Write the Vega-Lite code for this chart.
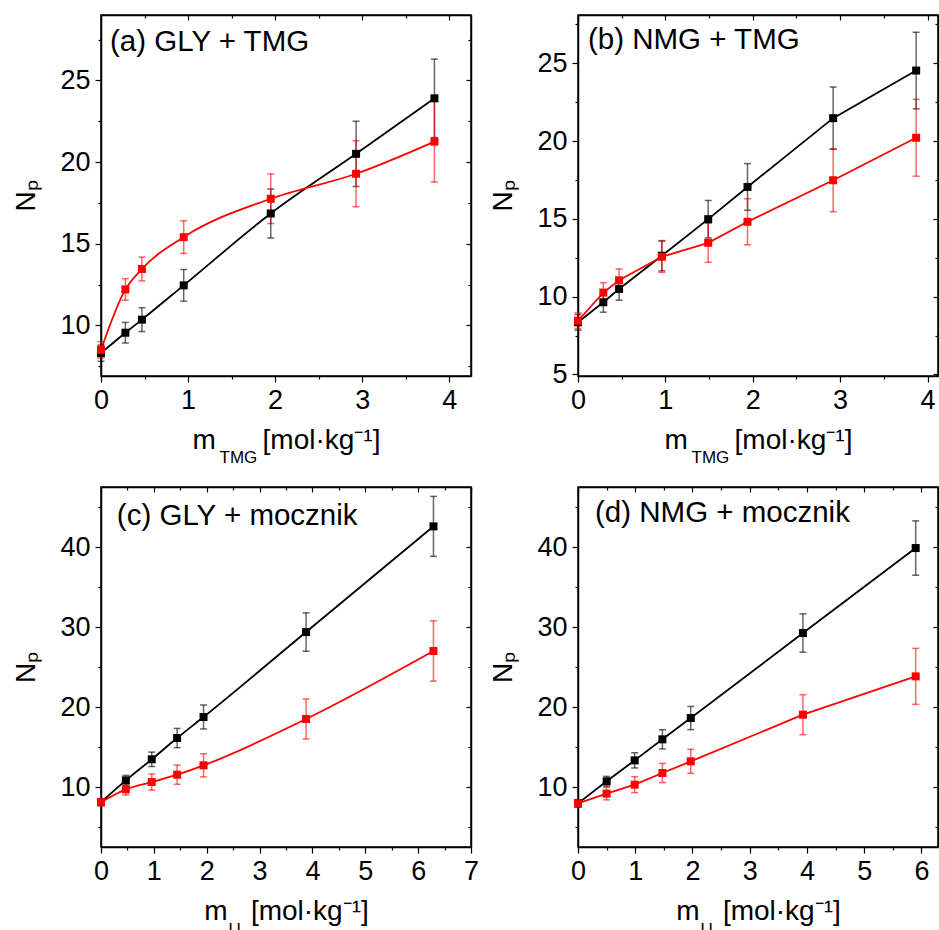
{
  "$schema": "https://vega.github.io/schema/vega-lite/v6.json",
  "padding": {"left": 12, "top": 9, "right": 0, "bottom": 0},
  "autosize": {"type": "pad"},
  "background": "white",
  "columns": 2,
  "bounds": "flush",
  "spacing": {"column": 107, "row": 111},
  "datasets": {
    "a": [
      {"x": 0, "y": 8.3, "err": 0.5, "s": "s1"},
      {"x": 0.28, "y": 9.55, "err": 0.63, "s": "s1"},
      {"x": 0.47, "y": 10.35, "err": 0.73, "s": "s1"},
      {"x": 0.95, "y": 12.45, "err": 0.97, "s": "s1"},
      {"x": 1.95, "y": 16.85, "err": 1.5, "s": "s1"},
      {"x": 2.93, "y": 20.5, "err": 2.0, "s": "s1"},
      {"x": 3.83, "y": 23.9, "err": 2.4, "s": "s1"},
      {"x": 0, "y": 8.5, "err": 0.5, "s": "s2"},
      {"x": 0.28, "y": 12.2, "err": 0.66, "s": "s2"},
      {"x": 0.47, "y": 13.45, "err": 0.73, "s": "s2"},
      {"x": 0.95, "y": 15.4, "err": 1.0, "s": "s2"},
      {"x": 1.95, "y": 17.75, "err": 1.52, "s": "s2"},
      {"x": 2.93, "y": 19.28, "err": 2.02, "s": "s2"},
      {"x": 3.83, "y": 21.25, "err": 2.47, "s": "s2"}
    ],
    "b": [
      {"x": 0, "y": 8.35, "err": 0.5, "s": "s1"},
      {"x": 0.29, "y": 9.64, "err": 0.64, "s": "s1"},
      {"x": 0.47, "y": 10.49, "err": 0.72, "s": "s1"},
      {"x": 0.96, "y": 12.63, "err": 0.97, "s": "s1"},
      {"x": 1.49, "y": 14.98, "err": 1.2, "s": "s1"},
      {"x": 1.94, "y": 17.05, "err": 1.5, "s": "s1"},
      {"x": 2.92, "y": 21.47, "err": 2.0, "s": "s1"},
      {"x": 3.87, "y": 24.53, "err": 2.46, "s": "s1"},
      {"x": 0, "y": 8.45, "err": 0.5, "s": "s2"},
      {"x": 0.29, "y": 10.26, "err": 0.64, "s": "s2"},
      {"x": 0.47, "y": 11.05, "err": 0.73, "s": "s2"},
      {"x": 0.96, "y": 12.56, "err": 1.0, "s": "s2"},
      {"x": 1.49, "y": 13.46, "err": 1.25, "s": "s2"},
      {"x": 1.94, "y": 14.81, "err": 1.48, "s": "s2"},
      {"x": 2.92, "y": 17.48, "err": 2.02, "s": "s2"},
      {"x": 3.87, "y": 20.21, "err": 2.47, "s": "s2"}
    ],
    "c": [
      {"x": 0, "y": 8.1, "err": 0.4, "s": "s1"},
      {"x": 0.47, "y": 10.83, "err": 0.62, "s": "s1"},
      {"x": 0.96, "y": 13.46, "err": 0.9, "s": "s1"},
      {"x": 1.44, "y": 16.12, "err": 1.2, "s": "s1"},
      {"x": 1.94, "y": 18.75, "err": 1.5, "s": "s1"},
      {"x": 3.88, "y": 29.37, "err": 2.4, "s": "s1"},
      {"x": 6.29, "y": 42.58, "err": 3.75, "s": "s1"},
      {"x": 0, "y": 8.1, "err": 0.4, "s": "s2"},
      {"x": 0.47, "y": 9.71, "err": 0.7, "s": "s2"},
      {"x": 0.96, "y": 10.62, "err": 1.0, "s": "s2"},
      {"x": 1.44, "y": 11.54, "err": 1.2, "s": "s2"},
      {"x": 1.94, "y": 12.71, "err": 1.45, "s": "s2"},
      {"x": 3.88, "y": 18.5, "err": 2.5, "s": "s2"},
      {"x": 6.29, "y": 27.0, "err": 3.77, "s": "s2"}
    ],
    "d": [
      {"x": 0, "y": 7.95, "err": 0.4, "s": "s1"},
      {"x": 0.5, "y": 10.71, "err": 0.62, "s": "s1"},
      {"x": 0.99, "y": 13.33, "err": 0.95, "s": "s1"},
      {"x": 1.475, "y": 15.96, "err": 1.2, "s": "s1"},
      {"x": 1.97, "y": 18.62, "err": 1.45, "s": "s1"},
      {"x": 3.93, "y": 29.25, "err": 2.4, "s": "s1"},
      {"x": 5.9, "y": 39.87, "err": 3.4, "s": "s1"},
      {"x": 0, "y": 7.95, "err": 0.4, "s": "s2"},
      {"x": 0.5, "y": 9.17, "err": 0.78, "s": "s2"},
      {"x": 0.99, "y": 10.29, "err": 1.0, "s": "s2"},
      {"x": 1.475, "y": 11.75, "err": 1.2, "s": "s2"},
      {"x": 1.97, "y": 13.21, "err": 1.5, "s": "s2"},
      {"x": 3.93, "y": 19.04, "err": 2.5, "s": "s2"},
      {"x": 5.9, "y": 23.83, "err": 3.5, "s": "s2"}
    ]
  },
  "concat": [
    {
      "width": 370, "height": 361,
      "data": {"name": "a"},
      "layer": [
        {"mark": {"type": "line", "interpolate": "monotone", "strokeWidth": 1.8},
         "encoding": {
           "x": {"field": "x", "type": "quantitative", "scale": {"domain": [0, 4.25], "nice": false, "zero": false},
                 "axis": {"orient": "bottom", "values": [0, 0.5, 1, 1.5, 2, 2.5, 3, 3.5, 4], "labelExpr": "datum.value % 1 === 0 ? format(datum.value, '.0f') : ''", "tickSize": {"condition": {"test": "datum.value % 1 === 0", "value": 6}, "value": 3}, "title": "m\u00a0\u00a0\u00a0\u00a0\u00a0\u00a0[mol·kg⁻¹]"}},
           "y": {"field": "y", "type": "quantitative", "scale": {"domain": [6.9, 29.0], "nice": false, "zero": false},
                 "axis": {"orient": "left", "values": [7.5, 10, 12.5, 15, 17.5, 20, 22.5, 25, 27.5], "labelExpr": "datum.value % 5 === 0 ? format(datum.value, '.0f') : ''", "tickSize": {"condition": {"test": "datum.value % 5 === 0", "value": 6}, "value": 3}, "title": "Nₚ"}},
           "color": {"field": "s", "type": "nominal", "scale": {"domain": ["s1", "s2"], "range": ["#000000", "#ff0000"]}, "legend": null}
         }},
        {"mark": {"type": "errorbar", "thickness": 1.5, "rule": {"opacity": 0.6}, "ticks": {"size": 7, "opacity": 0.6}},
         "encoding": {
           "x": {"field": "x", "type": "quantitative", "scale": {"domain": [0, 4.25], "nice": false, "zero": false}, "axis": null},
           "y": {"field": "y", "type": "quantitative", "scale": {"domain": [6.9, 29.0], "nice": false, "zero": false}, "axis": null},
           "yError": {"field": "err"},
           "color": {"field": "s", "type": "nominal", "scale": {"domain": ["s1", "s2"], "range": ["#000000", "#ff0000"]}, "legend": null}
         }},
        {"mark": {"type": "square", "size": 64, "opacity": 1},
         "encoding": {
           "x": {"field": "x", "type": "quantitative", "scale": {"domain": [0, 4.25], "nice": false, "zero": false}, "axis": null},
           "y": {"field": "y", "type": "quantitative", "scale": {"domain": [6.9, 29.0], "nice": false, "zero": false}, "axis": null},
           "color": {"field": "s", "type": "nominal", "scale": {"domain": ["s1", "s2"], "range": ["#000000", "#ff0000"]}, "legend": null}
         }},
        {"data": {"values": [{}]},
         "mark": {"type": "text", "text": "(a) GLY + TMG", "align": "left", "baseline": "alphabetic", "fontSize": 29.5, "color": "black"},
         "encoding": {
           "x": {"datum": 0.103, "type": "quantitative", "scale": {"domain": [0, 4.25], "nice": false, "zero": false}, "axis": null},
           "y": {"datum": 26.8, "type": "quantitative", "scale": {"domain": [6.9, 29.0], "nice": false, "zero": false}, "axis": null}
         }},
        {"mark": {"type": "point", "opacity": 0},
         "encoding": {
           "x": {"field": "x", "type": "quantitative", "scale": {"domain": [0, 4.25], "nice": false, "zero": false},
                 "axis": {"orient": "top", "values": [0, 0.5, 1, 1.5, 2, 2.5, 3, 3.5, 4], "labels": false, "tickSize": {"condition": {"test": "datum.value % 1 === 0", "value": -5}, "value": -3}, "title": "TMG", "titleFontSize": 17, "titleX": 118, "titleY": 447, "titleAlign": "left", "titleBaseline": "alphabetic", "titleAngle": 0}},
           "y": {"field": "y", "type": "quantitative", "scale": {"domain": [6.9, 29.0], "nice": false, "zero": false},
                 "axis": {"orient": "right", "values": [7.5, 10, 12.5, 15, 17.5, 20, 22.5, 25, 27.5], "labels": false, "tickSize": {"condition": {"test": "datum.value % 5 === 0", "value": -5}, "value": -3}, "title": null}}
         }}
      ],
      "resolve": {"axis": {"x": "independent", "y": "independent"}}
    },
    {
      "width": 360, "height": 361,
      "data": {"name": "b"},
      "layer": [
        {"mark": {"type": "line", "interpolate": "linear", "strokeWidth": 1.8},
         "encoding": {
           "x": {"field": "x", "type": "quantitative", "scale": {"domain": [0, 4.12], "nice": false, "zero": false},
                 "axis": {"orient": "bottom", "values": [0, 0.5, 1, 1.5, 2, 2.5, 3, 3.5, 4], "labelExpr": "datum.value % 1 === 0 ? format(datum.value, '.0f') : ''", "tickSize": {"condition": {"test": "datum.value % 1 === 0", "value": 6}, "value": 3}, "title": "m\u00a0\u00a0\u00a0\u00a0\u00a0\u00a0[mol·kg⁻¹]"}},
           "y": {"field": "y", "type": "quantitative", "scale": {"domain": [4.9, 28.1], "nice": false, "zero": false},
                 "axis": {"orient": "left", "values": [5, 7.5, 10, 12.5, 15, 17.5, 20, 22.5, 25, 27.5], "labelExpr": "datum.value % 5 === 0 ? format(datum.value, '.0f') : ''", "tickSize": {"condition": {"test": "datum.value % 5 === 0", "value": 6}, "value": 3}, "title": "Nₚ"}},
           "color": {"field": "s", "type": "nominal", "scale": {"domain": ["s1", "s2"], "range": ["#000000", "#ff0000"]}, "legend": null}
         }},
        {"mark": {"type": "errorbar", "thickness": 1.5, "rule": {"opacity": 0.6}, "ticks": {"size": 7, "opacity": 0.6}},
         "encoding": {
           "x": {"field": "x", "type": "quantitative", "scale": {"domain": [0, 4.12], "nice": false, "zero": false}, "axis": null},
           "y": {"field": "y", "type": "quantitative", "scale": {"domain": [4.9, 28.1], "nice": false, "zero": false}, "axis": null},
           "yError": {"field": "err"},
           "color": {"field": "s", "type": "nominal", "scale": {"domain": ["s1", "s2"], "range": ["#000000", "#ff0000"]}, "legend": null}
         }},
        {"mark": {"type": "square", "size": 64, "opacity": 1},
         "encoding": {
           "x": {"field": "x", "type": "quantitative", "scale": {"domain": [0, 4.12], "nice": false, "zero": false}, "axis": null},
           "y": {"field": "y", "type": "quantitative", "scale": {"domain": [4.9, 28.1], "nice": false, "zero": false}, "axis": null},
           "color": {"field": "s", "type": "nominal", "scale": {"domain": ["s1", "s2"], "range": ["#000000", "#ff0000"]}, "legend": null}
         }},
        {"data": {"values": [{}]},
         "mark": {"type": "text", "text": "(b) NMG + TMG", "align": "left", "baseline": "alphabetic", "fontSize": 29.5, "color": "black"},
         "encoding": {
           "x": {"datum": 0.114, "type": "quantitative", "scale": {"domain": [0, 4.12], "nice": false, "zero": false}, "axis": null},
           "y": {"datum": 25.9, "type": "quantitative", "scale": {"domain": [4.9, 28.1], "nice": false, "zero": false}, "axis": null}
         }},
        {"mark": {"type": "point", "opacity": 0},
         "encoding": {
           "x": {"field": "x", "type": "quantitative", "scale": {"domain": [0, 4.12], "nice": false, "zero": false},
                 "axis": {"orient": "top", "values": [0, 0.5, 1, 1.5, 2, 2.5, 3, 3.5, 4], "labels": false, "tickSize": {"condition": {"test": "datum.value % 1 === 0", "value": -5}, "value": -3}, "title": "TMG", "titleFontSize": 17, "titleX": 113, "titleY": 447, "titleAlign": "left", "titleBaseline": "alphabetic", "titleAngle": 0}},
           "y": {"field": "y", "type": "quantitative", "scale": {"domain": [4.9, 28.1], "nice": false, "zero": false},
                 "axis": {"orient": "right", "values": [5, 7.5, 10, 12.5, 15, 17.5, 20, 22.5, 25, 27.5], "labels": false, "tickSize": {"condition": {"test": "datum.value % 5 === 0", "value": -5}, "value": -3}, "title": null}}
         }}
      ],
      "resolve": {"axis": {"x": "independent", "y": "independent"}}
    },
    {
      "width": 370, "height": 360,
      "data": {"name": "c"},
      "layer": [
        {"mark": {"type": "line", "interpolate": "monotone", "strokeWidth": 1.8},
         "encoding": {
           "x": {"field": "x", "type": "quantitative", "scale": {"domain": [0, 7], "nice": false, "zero": false},
                 "axis": {"orient": "bottom", "values": [0, 0.5, 1, 1.5, 2, 2.5, 3, 3.5, 4, 4.5, 5, 5.5, 6, 6.5, 7], "labelExpr": "datum.value % 1 === 0 ? format(datum.value, '.0f') : ''", "tickSize": {"condition": {"test": "datum.value % 1 === 0", "value": 6}, "value": 3}, "title": "m\u00a0\u00a0\u00a0[mol·kg⁻¹]"}},
           "y": {"field": "y", "type": "quantitative", "scale": {"domain": [2.5, 47.5], "nice": false, "zero": false},
                 "axis": {"orient": "left", "values": [5, 10, 15, 20, 25, 30, 35, 40, 45], "labelExpr": "datum.value % 10 === 0 ? format(datum.value, '.0f') : ''", "tickSize": {"condition": {"test": "datum.value % 10 === 0", "value": 6}, "value": 3}, "title": "Nₚ"}},
           "color": {"field": "s", "type": "nominal", "scale": {"domain": ["s1", "s2"], "range": ["#000000", "#ff0000"]}, "legend": null}
         }},
        {"mark": {"type": "errorbar", "thickness": 1.5, "rule": {"opacity": 0.6}, "ticks": {"size": 7, "opacity": 0.6}},
         "encoding": {
           "x": {"field": "x", "type": "quantitative", "scale": {"domain": [0, 7], "nice": false, "zero": false}, "axis": null},
           "y": {"field": "y", "type": "quantitative", "scale": {"domain": [2.5, 47.5], "nice": false, "zero": false}, "axis": null},
           "yError": {"field": "err"},
           "color": {"field": "s", "type": "nominal", "scale": {"domain": ["s1", "s2"], "range": ["#000000", "#ff0000"]}, "legend": null}
         }},
        {"mark": {"type": "square", "size": 64, "opacity": 1},
         "encoding": {
           "x": {"field": "x", "type": "quantitative", "scale": {"domain": [0, 7], "nice": false, "zero": false}, "axis": null},
           "y": {"field": "y", "type": "quantitative", "scale": {"domain": [2.5, 47.5], "nice": false, "zero": false}, "axis": null},
           "color": {"field": "s", "type": "nominal", "scale": {"domain": ["s1", "s2"], "range": ["#000000", "#ff0000"]}, "legend": null}
         }},
        {"data": {"values": [{}]},
         "mark": {"type": "text", "text": "(c) GLY + mocznik", "align": "left", "baseline": "alphabetic", "fontSize": 29.5, "color": "black"},
         "encoding": {
           "x": {"datum": 0.3, "type": "quantitative", "scale": {"domain": [0, 7], "nice": false, "zero": false}, "axis": null},
           "y": {"datum": 42.75, "type": "quantitative", "scale": {"domain": [2.5, 47.5], "nice": false, "zero": false}, "axis": null}
         }},
        {"mark": {"type": "point", "opacity": 0},
         "encoding": {
           "x": {"field": "x", "type": "quantitative", "scale": {"domain": [0, 7], "nice": false, "zero": false},
                 "axis": {"orient": "top", "values": [0, 0.5, 1, 1.5, 2, 2.5, 3, 3.5, 4, 4.5, 5, 5.5, 6, 6.5, 7], "labels": false, "tickSize": {"condition": {"test": "datum.value % 1 === 0", "value": -5}, "value": -3}, "title": "U", "titleFontSize": 17, "titleX": 127, "titleY": 447, "titleAlign": "left", "titleBaseline": "alphabetic", "titleAngle": 0}},
           "y": {"field": "y", "type": "quantitative", "scale": {"domain": [2.5, 47.5], "nice": false, "zero": false},
                 "axis": {"orient": "right", "values": [5, 10, 15, 20, 25, 30, 35, 40, 45], "labels": false, "tickSize": {"condition": {"test": "datum.value % 10 === 0", "value": -5}, "value": -3}, "title": null}}
         }}
      ],
      "resolve": {"axis": {"x": "independent", "y": "independent"}}
    },
    {
      "width": 360, "height": 360,
      "data": {"name": "d"},
      "layer": [
        {"mark": {"type": "line", "interpolate": "linear", "strokeWidth": 1.8},
         "encoding": {
           "x": {"field": "x", "type": "quantitative", "scale": {"domain": [0, 6.29], "nice": false, "zero": false},
                 "axis": {"orient": "bottom", "values": [0, 0.5, 1, 1.5, 2, 2.5, 3, 3.5, 4, 4.5, 5, 5.5, 6], "labelExpr": "datum.value % 1 === 0 ? format(datum.value, '.0f') : ''", "tickSize": {"condition": {"test": "datum.value % 1 === 0", "value": 6}, "value": 3}, "title": "m\u00a0\u00a0\u00a0[mol·kg⁻¹]"}},
           "y": {"field": "y", "type": "quantitative", "scale": {"domain": [2.5, 47.5], "nice": false, "zero": false},
                 "axis": {"orient": "left", "values": [5, 10, 15, 20, 25, 30, 35, 40, 45], "labelExpr": "datum.value % 10 === 0 ? format(datum.value, '.0f') : ''", "tickSize": {"condition": {"test": "datum.value % 10 === 0", "value": 6}, "value": 3}, "title": "Nₚ"}},
           "color": {"field": "s", "type": "nominal", "scale": {"domain": ["s1", "s2"], "range": ["#000000", "#ff0000"]}, "legend": null}
         }},
        {"mark": {"type": "errorbar", "thickness": 1.5, "rule": {"opacity": 0.6}, "ticks": {"size": 7, "opacity": 0.6}},
         "encoding": {
           "x": {"field": "x", "type": "quantitative", "scale": {"domain": [0, 6.29], "nice": false, "zero": false}, "axis": null},
           "y": {"field": "y", "type": "quantitative", "scale": {"domain": [2.5, 47.5], "nice": false, "zero": false}, "axis": null},
           "yError": {"field": "err"},
           "color": {"field": "s", "type": "nominal", "scale": {"domain": ["s1", "s2"], "range": ["#000000", "#ff0000"]}, "legend": null}
         }},
        {"mark": {"type": "square", "size": 64, "opacity": 1},
         "encoding": {
           "x": {"field": "x", "type": "quantitative", "scale": {"domain": [0, 6.29], "nice": false, "zero": false}, "axis": null},
           "y": {"field": "y", "type": "quantitative", "scale": {"domain": [2.5, 47.5], "nice": false, "zero": false}, "axis": null},
           "color": {"field": "s", "type": "nominal", "scale": {"domain": ["s1", "s2"], "range": ["#000000", "#ff0000"]}, "legend": null}
         }},
        {"data": {"values": [{}]},
         "mark": {"type": "text", "text": "(d) NMG + mocznik", "align": "left", "baseline": "alphabetic", "fontSize": 29.5, "color": "black"},
         "encoding": {
           "x": {"datum": 0.297, "type": "quantitative", "scale": {"domain": [0, 6.29], "nice": false, "zero": false}, "axis": null},
           "y": {"datum": 43.1, "type": "quantitative", "scale": {"domain": [2.5, 47.5], "nice": false, "zero": false}, "axis": null}
         }},
        {"mark": {"type": "point", "opacity": 0},
         "encoding": {
           "x": {"field": "x", "type": "quantitative", "scale": {"domain": [0, 6.29], "nice": false, "zero": false},
                 "axis": {"orient": "top", "values": [0, 0.5, 1, 1.5, 2, 2.5, 3, 3.5, 4, 4.5, 5, 5.5, 6], "labels": false, "tickSize": {"condition": {"test": "datum.value % 1 === 0", "value": -5}, "value": -3}, "title": "U", "titleFontSize": 17, "titleX": 122, "titleY": 447, "titleAlign": "left", "titleBaseline": "alphabetic", "titleAngle": 0}},
           "y": {"field": "y", "type": "quantitative", "scale": {"domain": [2.5, 47.5], "nice": false, "zero": false},
                 "axis": {"orient": "right", "values": [5, 10, 15, 20, 25, 30, 35, 40, 45], "labels": false, "tickSize": {"condition": {"test": "datum.value % 10 === 0", "value": -5}, "value": -3}, "title": null}}
         }}
      ],
      "resolve": {"axis": {"x": "independent", "y": "independent"}}
    }
  ],
  "config": {
    "font": "Liberation Sans",
    "view": {"stroke": "black", "strokeWidth": 1.5},
    "text": {"font": "Liberation Sans"},
    "axis": {
      "grid": false,
      "domainColor": "black", "domainWidth": 1.5,
      "tickColor": "black", "tickWidth": 1.2,
      "labelColor": "black", "labelFontSize": 27, "labelFont": "Liberation Sans",
      "labelOverlap": false, "labelFlush": false, "labelBound": false,
      "titleColor": "black", "titleFontSize": 28, "titleFont": "Liberation Sans", "titleFontWeight": "normal"
    },
    "axisBottom": {"labelPadding": 5, "titlePadding": 13},
    "axisLeft": {"labelPadding": 5, "titlePadding": 19}
  }
}
